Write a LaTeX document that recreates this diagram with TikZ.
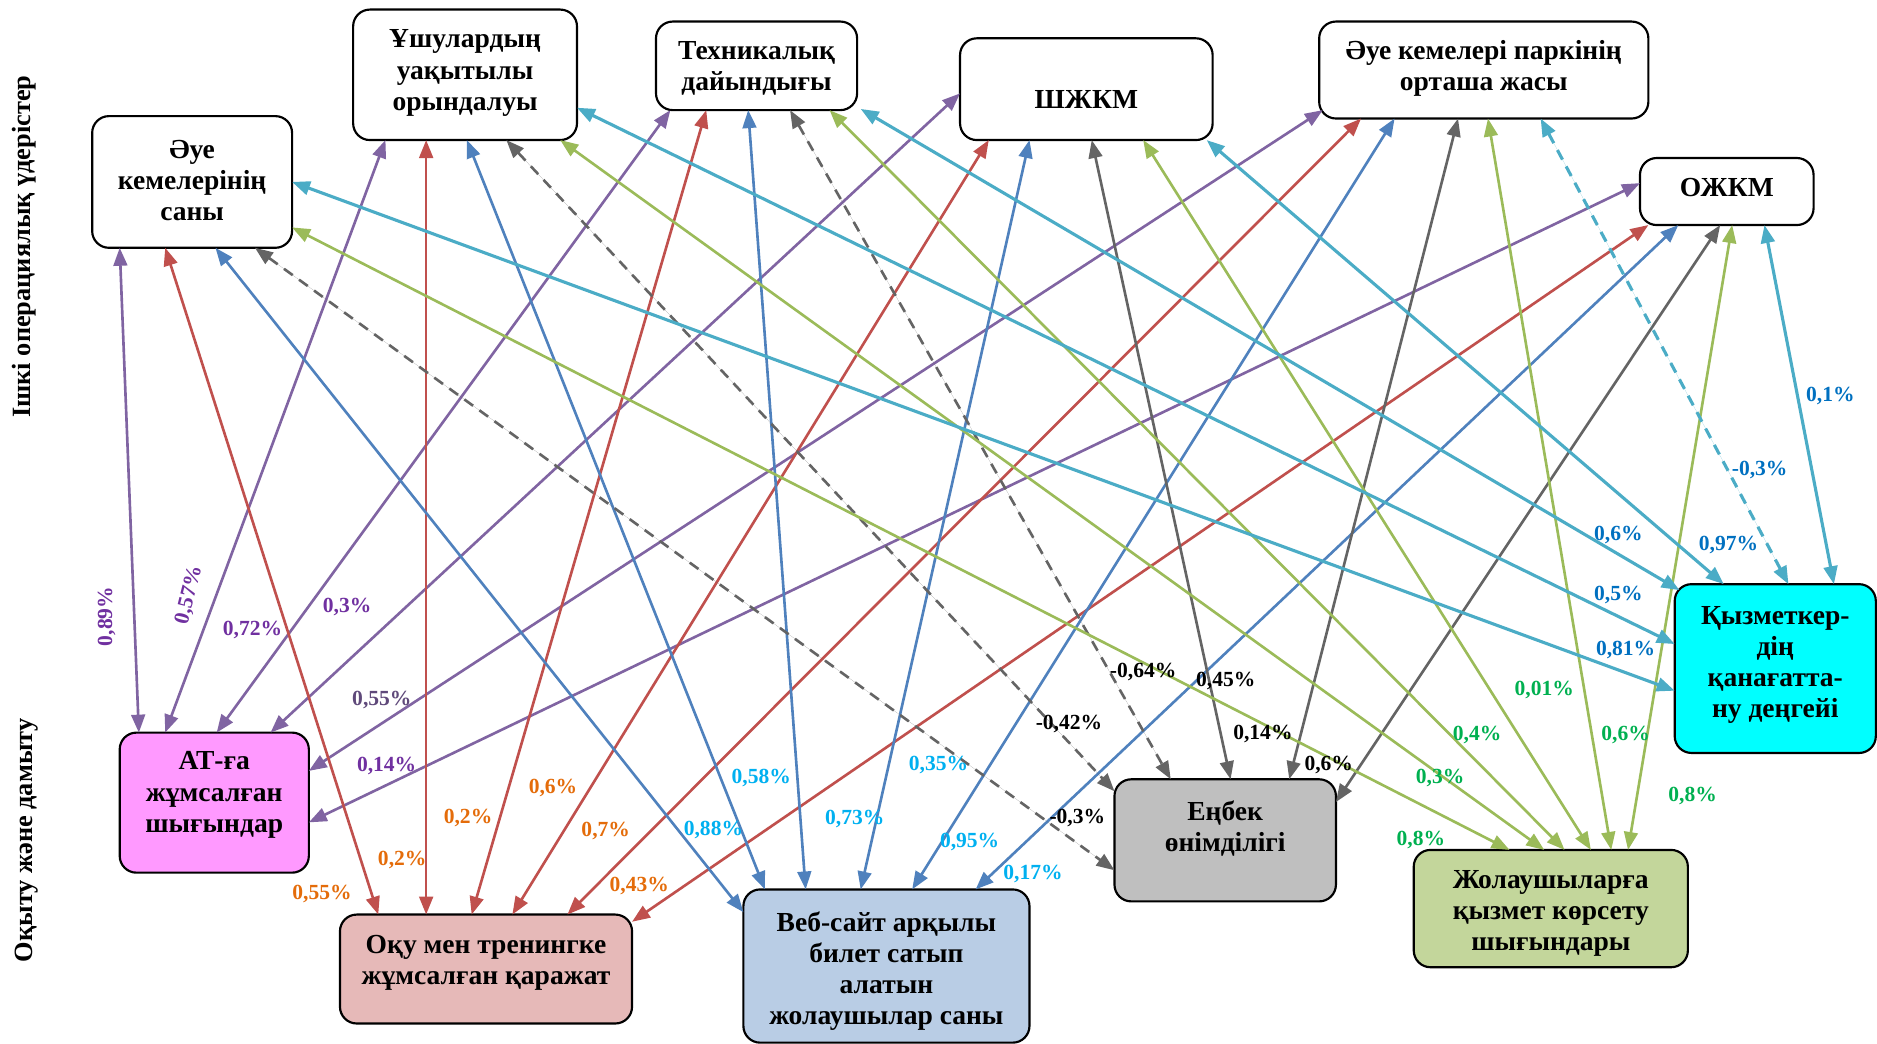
\documentclass[tikz,border=0pt]{standalone}
\usepackage{fontspec}
\setmainfont{Liberation Serif}
\usetikzlibrary{arrows.meta}

\definecolor{lnPurple}{HTML}{8064A2}
\definecolor{lnRed}{HTML}{C0504D}
\definecolor{lnBlue}{HTML}{4F81BD}
\definecolor{lnGray}{HTML}{646464}
\definecolor{lnGreen}{HTML}{9BBB59}
\definecolor{lnTeal}{HTML}{4BACC6}
\definecolor{txPurple}{HTML}{7030A0}
\definecolor{txPurpleGray}{HTML}{5F497A}
\definecolor{txOrange}{HTML}{E46C0A}
\definecolor{txSky}{HTML}{00B0F0}
\definecolor{txGreen}{HTML}{00B050}
\definecolor{txBlue}{HTML}{0070C0}
\definecolor{fillPink}{HTML}{FF99FF}
\definecolor{fillRose}{HTML}{E6B9B8}
\definecolor{fillSteel}{HTML}{B9CDE5}
\definecolor{fillGray}{HTML}{BFBFBF}
\definecolor{fillOlive}{HTML}{C3D69B}
\definecolor{fillCyan}{HTML}{00FFFF}

\begin{document}
\begin{tikzpicture}[x=1pt,y=-1pt,
  box/.style={draw=black, line width=1.8pt, rounded corners=14pt, inner sep=0pt, outer sep=0pt},
  boxtext/.style={font=\fontsize{23}{26}\selectfont\bfseries, align=center, inner sep=0pt},
  pct/.style={font=\fontsize{18}{20}\selectfont\bfseries, inner sep=0pt},
  side/.style={font=\fontsize{22}{26}\selectfont\bfseries, rotate=90, inner sep=0pt},
  tips/.style={{Triangle[length=15pt,width=11.5pt]}-{Triangle[length=15pt,width=11.5pt]}},
  link/.style={tips, line width=2.2pt},
  dashlink/.style={link, dash pattern=on 9pt off 6.5pt},
]
\useasboundingbox (0,0) rectangle (1568,872);

% ---- side captions ----
\node[side] (capTop) at (20,206) {Ішкі операциялық үдерістер};
\node[side] (capBot) at (22,702) {Оқыту және дамыту};

% ---- internal process boxes ----
\node[box, minimum width=167pt, minimum height=110pt] (A1) at (160.5,152) {};
\node[box, minimum width=187pt, minimum height=109pt] (A2) at (388.5,62.5) {};
\node[box, minimum width=168pt, minimum height=74pt]  (A3) at (632,55) {};
\node[box, minimum width=211pt, minimum height=85pt]  (A4) at (907.5,74.5) {};
\node[box, minimum width=275pt, minimum height=81pt]  (A5) at (1239.5,58.5) {};
\node[box, minimum width=145pt, minimum height=56pt]  (A6) at (1442.5,160) {};

\node[boxtext] (A1t) at (160.5,151) {Әуе\\кемелерінің\\саны};
\node[boxtext] (A2t) at (388.5,61) {Ұшулардың\\уақытылы\\орындалуы};
\node[boxtext] (A3t) at (632,57) {Техникалық\\дайындығы};
\node[boxtext] (A4t) at (907.5,83) {ШЖКМ};
\node[boxtext] (A5t) at (1239.5,57) {Әуе кемелері паркінің\\орташа жасы};
\node[boxtext] (A6t) at (1442.5,157) {ОЖКМ};

% ---- learning and growth boxes ----
\node[box, fill=fillPink,  minimum width=158pt, minimum height=117pt] (B1) at (179,670.5) {};
\node[box, fill=fillRose,  minimum width=244pt, minimum height=91pt]  (B2) at (406,809.5) {};
\node[box, fill=fillSteel, minimum width=239pt, minimum height=128pt] (B3) at (740.5,807) {};
\node[box, fill=fillGray,  minimum width=185pt, minimum height=102pt] (B4) at (1023.5,702) {};
\node[box, fill=fillOlive, minimum width=229pt, minimum height=98pt]  (B5) at (1295.5,759) {};
\node[box, fill=fillCyan,  minimum width=168pt, minimum height=141pt] (B6) at (1483,558.5) {};

\node[boxtext] (B1t) at (179,664) {АТ-ға\\жұмсалған\\шығындар};
\node[boxtext] (B2t) at (406,804) {Оқу мен тренингке\\жұмсалған қаражат};
\node[boxtext] (B3t) at (740.5,811) {Веб-сайт арқылы\\билет сатып\\алатын\\жолаушылар саны};
\node[boxtext] (B4t) at (1023.5,692) {Еңбек\\өнімділігі};
\node[boxtext] (B5t) at (1295.5,763) {Жолаушыларға\\қызмет көрсету\\шығындары};
\node[boxtext] (B6t) at (1483,555.5) {Қызметкер-\\дің\\қанағатта-\\ну деңгейі};

% ---- links to IT expenses ----
\begin{scope}[every path/.style={link, draw=lnPurple, fill=lnPurple}]
\draw ([xshift=-60.5pt]A1.south) -- ([xshift=-63pt]B1.north);
\draw ([xshift=-66.5pt]A2.south) -- ([xshift=-41pt]B1.north);
\draw ([xshift=-72pt]A3.south) -- ([xshift=2pt]B1.north);
\draw ([yshift=-3.5pt]A4.west) -- ([xshift=47pt]B1.north);
\draw ([xshift=3pt,yshift=7pt]A5.south west) -- ([yshift=26.5pt]B1.east);
\draw ([yshift=7pt]A6.west) -- ([yshift=-16.5pt]B1.east);
\end{scope}

% ---- links to training funds ----
\begin{scope}[every path/.style={link, draw=lnRed, fill=lnRed}]
\draw ([xshift=-22.5pt]A1.south) -- ([xshift=-90pt]B2.north);
\draw ([xshift=-32.5pt]A2.south) -- ([xshift=-50pt]B2.north);
\draw ([xshift=-42pt]A3.south) -- ([xshift=-12pt]B2.north);
\draw ([xshift=-81.5pt]A4.south) -- ([xshift=22pt]B2.north);
\draw ([xshift=-102.5pt]A5.south) -- ([xshift=68pt]B2.north);
\draw ([xshift=-65.5pt]A6.south) -- ([yshift=39.5pt]B2.east);
\end{scope}

% ---- links to online ticket buyers ----
\begin{scope}[every path/.style={link, draw=lnBlue, fill=lnBlue}]
\draw ([xshift=19.5pt]A1.south) -- ([yshift=45pt]B3.west);
\draw ([xshift=1.5pt]A2.south) -- ([xshift=-101.5pt]B3.north);
\draw ([xshift=-7pt]A3.south) -- ([xshift=-67.5pt]B3.north);
\draw ([xshift=-47.5pt]A4.south) -- ([xshift=-21.5pt]B3.north);
\draw ([xshift=-74.5pt]A5.south) -- ([xshift=21.5pt]B3.north);
\draw ([xshift=-40.5pt]A6.south) -- ([xshift=74.5pt]B3.north);
\end{scope}

% ---- links to labour productivity ----
\begin{scope}[every path/.style={draw=lnGray, fill=lnGray}]
\draw[dashlink] ([xshift=52.5pt]A1.south) -- ([yshift=-25pt]B4.west);
\draw[dashlink] ([xshift=34.5pt]A2.south) -- ([yshift=41pt]B4.west);
\draw[dashlink] ([xshift=28pt]A3.south) -- ([xshift=-45.5pt]B4.north);
\draw[link] ([xshift=4.5pt]A4.south) -- ([xshift=4.5pt]B4.north);
\draw[link] ([xshift=-21.5pt]A5.south) -- ([xshift=53.5pt]B4.north);
\draw[link] ([xshift=-5.5pt]A6.south) -- ([yshift=32pt]B4.east);
\end{scope}

% ---- links to passenger service costs ----
\begin{scope}[every path/.style={link, draw=lnGreen, fill=lnGreen}]
\draw ([yshift=-38pt]A1.east) -- ([xshift=-34.5pt]B5.north);
\draw ([xshift=79.5pt]A2.south) -- ([xshift=-5.5pt]B5.north);
\draw ([xshift=61pt]A3.south) -- ([xshift=11.5pt]B5.north);
\draw ([xshift=47.5pt]A4.south) -- ([xshift=33.5pt]B5.north);
\draw ([xshift=3.5pt]A5.south) -- ([xshift=50.5pt]B5.north);
\draw ([xshift=4.5pt]A6.south) -- ([xshift=64.5pt]B5.north);
\end{scope}

% ---- links to staff satisfaction ----
\begin{scope}[every path/.style={draw=lnTeal, fill=lnTeal}]
\draw[link, line width=2.6pt] (A1.east) -- ([yshift=-18.5pt]B6.west);
\draw[link, line width=2.6pt] ([yshift=-27.5pt]A2.east) -- ([yshift=20.5pt]B6.west);
\draw[link, line width=2.6pt] ([xshift=3pt,yshift=1pt]A3.south east) -- ([xshift=4pt,yshift=-5pt]B6.north west);
\draw[link, line width=2.6pt] ([xshift=100.5pt]A4.south) -- ([xshift=-43pt]B6.north);
\draw[dashlink, line width=2.6pt] ([xshift=47.5pt]A5.south) -- ([xshift=11pt]B6.north);
\draw[link, line width=2.6pt] ([xshift=31.5pt]A6.south) -- ([xshift=49pt]B6.north);
\end{scope}

% ---- percentage labels ----
\begin{scope}[every node/.style={pct}]
\node[text=txPurple, rotate=90] (p1) at (89,515) {0,89\%};
\node[text=txPurple, rotate=76] (p2) at (158,497) {0,57\%};
\node[text=txPurple] (p3) at (211,526) {0,72\%};
\node[text=txPurple] (p4) at (290,507) {0,3\%};
\node[text=txPurpleGray] (p5) at (319,585) {0,55\%};
\node[text=txPurple] (p6) at (323,640) {0,14\%};

\node[text=txOrange] (r1) at (269,747) {0,55\%};
\node[text=txOrange] (r2) at (336,718) {0,2\%};
\node[text=txOrange] (r3) at (391,683) {0,2\%};
\node[text=txOrange] (r4) at (462,658) {0,6\%};
\node[text=txOrange] (r5) at (506,694) {0,7\%};
\node[text=txOrange] (r6) at (534,740) {0,43\%};

\node[text=txSky] (u1) at (596,693) {0,88\%};
\node[text=txSky] (u2) at (636,650) {0,58\%};
\node[text=txSky] (u3) at (714,684) {0,73\%};
\node[text=txSky] (u4) at (784,639) {0,35\%};
\node[text=txSky] (u5) at (810,703) {0,95\%};
\node[text=txSky] (u6) at (863,730) {0,17\%};

\node[text=black] (g1) at (900,683) {-0,3\%};
\node[text=black] (g2) at (893,605) {-0,42\%};
\node[text=black] (g3) at (955,561) {-0,64\%};
\node[text=black] (g4) at (1024,569) {0,45\%};
\node[text=black] (g5) at (1055,613) {0,14\%};
\node[text=black] (g6) at (1110,639) {0,6\%};

\node[text=txGreen] (e1) at (1187,702) {0,8\%};
\node[text=txGreen] (e2) at (1203,650) {0,3\%};
\node[text=txGreen] (e3) at (1234,614) {0,4\%};
\node[text=txGreen] (e4) at (1290,576) {0,01\%};
\node[text=txGreen] (e5) at (1358,614) {0,6\%};
\node[text=txGreen] (e6) at (1414,665) {0,8\%};

\node[text=txBlue] (t1) at (1358,543) {0,81\%};
\node[text=txBlue] (t2) at (1352,497) {0,5\%};
\node[text=txBlue] (t3) at (1352,447) {0,6\%};
\node[text=txBlue] (t4) at (1444,455) {0,97\%};
\node[text=txBlue] (t5) at (1470,393) {-0,3\%};
\node[text=txBlue] (t6) at (1529,331) {0,1\%};
\end{scope}
\end{tikzpicture}
\end{document}
